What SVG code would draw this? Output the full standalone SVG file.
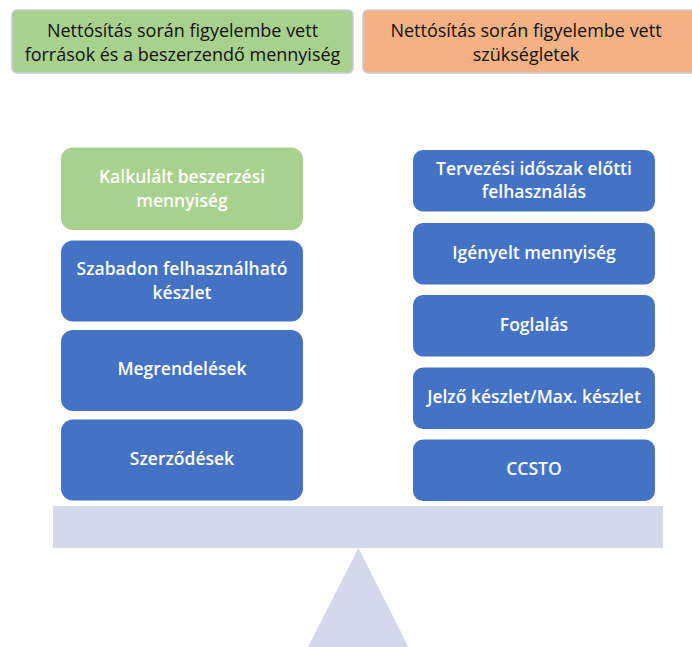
<svg xmlns="http://www.w3.org/2000/svg" width="692" height="647" viewBox="0 0 692 647">
  <style>
    .hdr { stroke: #c8cdd2; stroke-width: 1.5; }
    .hdr-text { font-family: "Open Sans", "Liberation Sans", sans-serif; font-size: 18px; fill: #111; text-anchor: middle; }
    .box { fill: #4472c4; }
    .box-green { fill: #a9d18e; }
    .box-text { font-family: "Open Sans", "Liberation Sans", sans-serif; font-size: 17.5px; font-weight: 600; fill: #ffffff; text-anchor: middle; }
    .scale { fill: #d3d9eb; }
  </style>
  <rect width="692" height="647" fill="#ffffff"/>

  <!-- column headers -->
  <g id="header-sources">
    <rect class="hdr" x="12" y="10" width="341" height="63" rx="5" fill="#a9d18e"/>
    <text class="hdr-text" x="182.5" y="37">Nettósítás során figyelembe vett</text>
    <text class="hdr-text" x="182.5" y="61">források és a beszerzendő mennyiség</text>
  </g>
  <g id="header-needs">
    <rect class="hdr" x="363" y="10" width="340" height="63" rx="5" fill="#f4b183"/>
    <text class="hdr-text" x="526" y="37">Nettósítás során figyelembe vett</text>
    <text class="hdr-text" x="526" y="61">szükségletek</text>
  </g>

  <!-- left pan: sources -->
  <g id="calc-quantity">
    <rect class="box-green" x="61" y="147.5" width="242" height="82.5" rx="12"/>
    <text class="box-text" x="182" y="183">Kalkulált beszerzési</text>
    <text class="box-text" x="182" y="207">mennyiség</text>
  </g>
  <g id="free-stock">
    <rect class="box" x="61" y="240.5" width="242" height="81" rx="12"/>
    <text class="box-text" x="182" y="275">Szabadon felhasználható</text>
    <text class="box-text" x="182" y="299">készlet</text>
  </g>
  <g id="orders">
    <rect class="box" x="61" y="330" width="242" height="81" rx="12"/>
    <text class="box-text" x="182" y="375">Megrendelések</text>
  </g>
  <g id="contracts">
    <rect class="box" x="61" y="419.5" width="242" height="81" rx="12"/>
    <text class="box-text" x="182" y="465">Szerződések</text>
  </g>

  <!-- right pan: requirements -->
  <g id="pre-period-use">
    <rect class="box" x="413" y="150" width="242" height="61.5" rx="10"/>
    <text class="box-text" x="534" y="175">Tervezési időszak előtti</text>
    <text class="box-text" x="534" y="198">felhasználás</text>
  </g>
  <g id="requested-qty">
    <rect class="box" x="413" y="223" width="242" height="61.5" rx="10"/>
    <text class="box-text" x="534" y="259">Igényelt mennyiség</text>
  </g>
  <g id="reservation">
    <rect class="box" x="413" y="295" width="242" height="61.5" rx="10"/>
    <text class="box-text" x="534" y="331">Foglalás</text>
  </g>
  <g id="signal-stock">
    <rect class="box" x="413" y="367.5" width="242" height="61.5" rx="10"/>
    <text class="box-text" x="534" y="403">Jelző készlet/Max. készlet</text>
  </g>
  <g id="ccsto">
    <rect class="box" x="413" y="439.5" width="242" height="61.5" rx="10"/>
    <text class="box-text" x="534" y="475">CCSTO</text>
  </g>

  <!-- balance: beam and fulcrum -->
  <g id="balance">
    <rect class="scale" x="53" y="506" width="610" height="42"/>
    <polygon class="scale" points="358.5,548 308,647 408.5,647"/>
  </g>
</svg>
